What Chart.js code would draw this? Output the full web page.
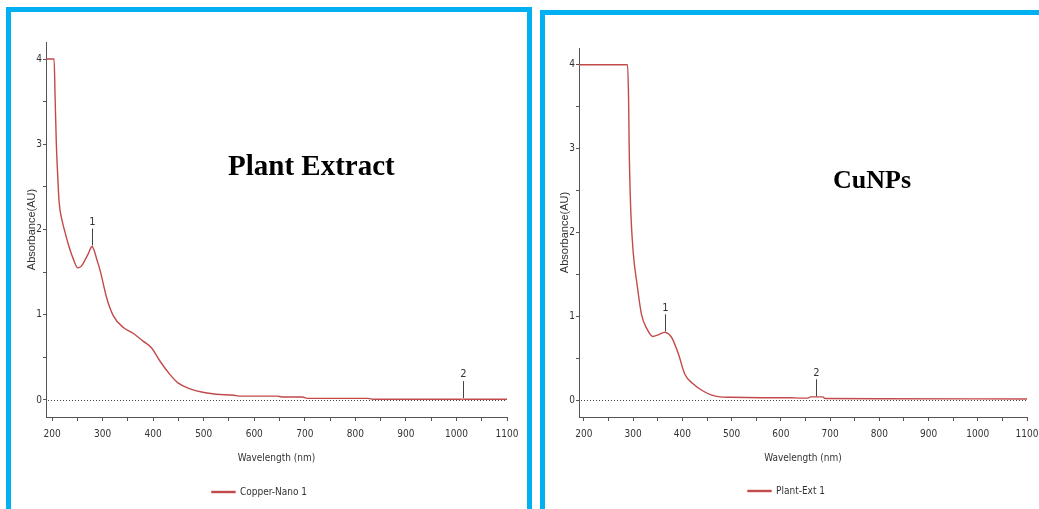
<!DOCTYPE html>
<html>
<head>
<meta charset="utf-8">
<script src="https://cdn.jsdelivr.net/npm/chart.js@4.4.1/dist/chart.umd.min.js"></script>
<style>
  html, body { margin: 0; padding: 0; background: #fff; }
  body { width: 1039px; height: 509px; position: relative; overflow: hidden; }
  .panel { position: absolute; border: 5px solid #00b0f0; box-sizing: border-box; }
  #panel-left { left: 6px; top: 7px; width: 526px; height: 520px; }
  #panel-right { left: 540px; top: 10px; width: 520px; height: 520px; }
  canvas { position: absolute; }
  #chart-left { left: 12px; top: 13px; }
  #chart-right { left: 546px; top: 16px; }
  .caption {
    position: absolute;
    font-family: "Liberation Serif", "Times New Roman", serif;
    font-weight: bold;
    line-height: 1;
    color: #000;
    white-space: nowrap;
  }
  #caption-left { left: 228px; top: 151px; font-size: 29px; }
  #caption-right { left: 833px; top: 167px; font-size: 26px; }
</style>
</head>
<body>
<div class="panel" id="panel-left"></div>
<div class="panel" id="panel-right"></div>
<canvas id="chart-left" width="514" height="496"></canvas>
<canvas id="chart-right" width="500" height="493"></canvas>
<div class="caption" id="caption-left">Plant Extract</div>
<div class="caption" id="caption-right">CuNPs</div>
<script>
  // left panel: Copper-Nano 1
  var leftWavelength = [188, 204, 206, 208.5, 211, 214, 220, 226, 232, 241, 251, 258, 265, 272, 279, 283, 288, 295, 308, 321, 341, 361, 380, 397, 413, 433, 449, 473, 498, 525, 560, 570, 645, 655, 695, 705, 825, 835, 1000, 1012, 1024, 1100];
  var leftAbsorbance = [4, 4, 3.55, 3.0, 2.65, 2.32, 2.1, 1.96, 1.83, 1.67, 1.55, 1.57, 1.64, 1.72, 1.80, 1.76, 1.66, 1.52, 1.20, 0.99, 0.85, 0.78, 0.69, 0.61, 0.46, 0.30, 0.20, 0.13, 0.09, 0.067, 0.055, 0.045, 0.045, 0.035, 0.035, 0.018, 0.018, 0.008, 0.008, 0.01, 0.008, 0.008];
  var leftPeakWavelength = [279, 1012];
  var leftPeakAbsorbance = [1.80, 0.01];

  // right panel: Plant-Ext 1
  var rightWavelength = [190, 288.6, 290.7, 292, 294.5, 300, 308, 317, 328, 340, 351, 365, 372, 379, 392, 405, 421, 442, 460, 476, 497, 560, 620, 640, 655, 660, 685, 690, 800, 1100];
  var rightAbsorbance = [4, 4, 3.6, 3.0, 2.37, 1.77, 1.38, 1.02, 0.85, 0.76, 0.78, 0.81, 0.79, 0.74, 0.55, 0.31, 0.20, 0.11, 0.06, 0.04, 0.035, 0.03, 0.03, 0.025, 0.025, 0.04, 0.04, 0.02, 0.018, 0.015];
  var rightPeakWavelength = [365, 672];
  var rightPeakAbsorbance = [0.81, 0.035];

  var peakLabels = ['1', '2'];
  var xTickValues = [200, 250, 300, 350, 400, 450, 500, 550, 600, 650, 700, 750, 800, 850, 900, 950, 1000, 1050, 1100];
  var yTickValues = [0, 0.5, 1, 1.5, 2, 2.5, 3, 3.5, 4];

  var curveColor = '#c24a4a';
  var axisColor = '#555555';
  var narrowFont = "'Liberation Sans Narrow', 'Arial Narrow', 'DejaVu Sans Condensed', sans-serif";

  function toPoints(xs, ys) {
    return xs.map(function (x, i) { return { x: x, y: ys[i] }; });
  }

  var baselinePlugin = {
    id: 'baseline',
    beforeDatasetsDraw: function (chart) {
      var ctx = chart.ctx;
      var y = Math.round(chart.scales.y.getPixelForValue(0)) + 0.5;
      ctx.save();
      ctx.strokeStyle = '#444';
      ctx.lineWidth = 1;
      ctx.setLineDash([1, 2]);
      ctx.beginPath();
      ctx.moveTo(chart.chartArea.left + 2, y);
      ctx.lineTo(chart.scales.x.getPixelForValue(1100), y);
      ctx.stroke();
      ctx.restore();
    }
  };

  var peakPlugin = {
    id: 'peakMarks',
    afterDatasetsDraw: function (chart, args, opts) {
      var ctx = chart.ctx;
      ctx.save();
      ctx.strokeStyle = '#444';
      ctx.fillStyle = '#333';
      ctx.lineWidth = 1;
      ctx.font = '11px ' + narrowFont;
      ctx.textAlign = 'center';
      ctx.textBaseline = 'bottom';
      opts.wavelength.forEach(function (w, i) {
        var px = Math.round(chart.scales.x.getPixelForValue(w)) + 0.5;
        var py = chart.scales.y.getPixelForValue(opts.absorbance[i]);
        ctx.beginPath();
        ctx.moveTo(px, py - 1);
        ctx.lineTo(px, py - 18);
        ctx.stroke();
        ctx.fillText(opts.labels[i], px, py - 19);
      });
      ctx.restore();
    }
  };

  function buildChart(canvasId, cfg) {
    return new Chart(document.getElementById(canvasId), {
      type: 'line',
      data: {
        datasets: [
          {
            label: cfg.label,
            data: toPoints(cfg.wavelength, cfg.absorbance),
            borderColor: curveColor,
            backgroundColor: curveColor,
            borderWidth: 1.4,
            pointRadius: 0,
            cubicInterpolationMode: 'monotone',
            fill: false,
          },
        ],
      },
      options: {
        responsive: false,
        animation: false,
        devicePixelRatio: 1,
        layout: { padding: { top: cfg.padTop, right: cfg.padRight, left: 0, bottom: cfg.padBottom } },
        plugins: {
          tooltip: { enabled: false },
          legend: {
            position: 'bottom',
            labels: {
              boxWidth: 23,
              boxHeight: 1,
              padding: cfg.legendPad,
              color: '#333',
              font: { family: narrowFont, size: 10 },
            },
          },
          peakMarks: {
            wavelength: cfg.peakWavelength,
            absorbance: cfg.peakAbsorbance,
            labels: peakLabels,
          },
        },
        scales: {
          x: {
            type: 'linear',
            min: cfg.xMin,
            max: 1100,
            afterBuildTicks: function (scale) {
              scale.ticks = xTickValues.map(function (v) { return { value: v }; });
            },
            afterFit: function (scale) { scale.height = cfg.xAxisHeight; },
            ticks: {
              autoSkip: false,
              maxRotation: 0,
              padding: 7,
              color: '#333',
              font: { family: narrowFont, size: 10 },
              callback: function (v) { return v % 100 === 0 ? String(v) : ''; },
            },
            grid: { drawOnChartArea: false, drawTicks: true, tickLength: 4, color: axisColor },
            border: { display: true, color: axisColor, width: 1 },
            title: {
              display: true,
              text: 'Wavelength (nm)',
              color: '#333',
              font: { family: narrowFont, size: 10 },
              padding: { top: 0, bottom: cfg.xTitlePad },
            },
          },
          y: {
            type: 'linear',
            min: -0.2,
            max: 4.2,
            afterBuildTicks: function (scale) {
              scale.ticks = yTickValues.map(function (v) { return { value: v }; });
            },
            afterFit: function (scale) { scale.width = cfg.yAxisWidth; },
            ticks: {
              padding: 1,
              color: '#333',
              font: { family: narrowFont, size: 10 },
              callback: function (v) { return Number.isInteger(v) ? String(v) : ''; },
            },
            grid: { drawOnChartArea: false, drawTicks: true, tickLength: 3, color: axisColor },
            border: { display: true, color: axisColor, width: 1 },
            title: {
              display: true,
              text: 'Absorbance(AU)',
              color: '#333',
              font: { family: "'Liberation Sans', Arial, sans-serif", size: 11 },
              padding: { top: cfg.yTitlePad, bottom: 0 },
            },
          },
        },
      },
      plugins: [baselinePlugin, peakPlugin],
    });
  }

  buildChart('chart-left', {
    label: 'Copper-Nano 1',
    wavelength: leftWavelength,
    absorbance: leftAbsorbance,
    peakWavelength: leftPeakWavelength,
    peakAbsorbance: leftPeakAbsorbance,
    xMin: 188,
    padTop: 29,
    padRight: 19,
    padBottom: 2,
    yAxisWidth: 34,
    xAxisHeight: 55,
    legendPad: 15,
    xTitlePad: 8,
    yTitlePad: 13,
  });

  buildChart('chart-right', {
    label: 'Plant-Ext 1',
    wavelength: rightWavelength,
    absorbance: rightAbsorbance,
    peakWavelength: rightPeakWavelength,
    peakAbsorbance: rightPeakAbsorbance,
    xMin: 190,
    padTop: 32,
    padRight: 19,
    padBottom: 3,
    yAxisWidth: 33,
    xAxisHeight: 52,
    legendPad: 17,
    xTitlePad: 5,
    yTitlePad: 12,
  });
</script>
</body>
</html>
